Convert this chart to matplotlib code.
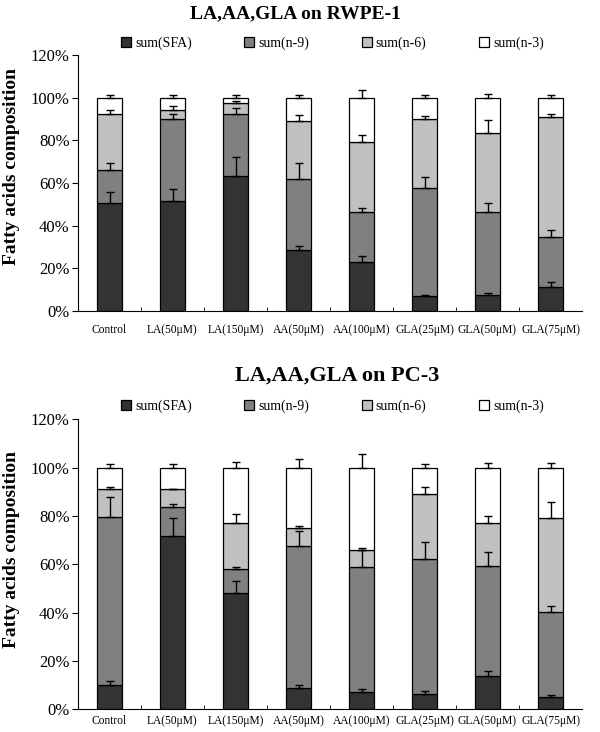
import matplotlib
matplotlib.use("Agg")
import matplotlib.pyplot as plt
import numpy as np

plt.rcParams['font.family'] = ['Liberation Serif', 'DejaVu Serif']

#-- DATA --

groups = ["Control", "LA(50μM)", "LA(150μM)", "AA(50μM)", "AA(100μM)",
          "GLA(25μM)", "GLA(50μM)", "GLA(75μM)"]
series = ["sum(SFA)", "sum(n-9)", "sum(n-6)", "sum(n-3)"]
colors = ["#333333", "#808080", "#c0c0c0", "#ffffff"]

# RWPE-1, percent of total
rwpe_sfa = [50.6, 51.6, 63.4, 28.7, 23.1, 7.0, 7.5, 11.5]
rwpe_n9 = [15.3, 38.3, 28.7, 33.0, 23.3, 50.6, 38.9, 23.1]
rwpe_n6 = [26.2, 4.5, 5.3, 27.2, 32.7, 32.3, 36.8, 56.1]
rwpe_n3 = [7.9, 5.6, 2.6, 11.1, 20.9, 10.1, 16.8, 9.3]
rwpe_sfa_err = [5.0, 5.4, 9.0, 1.7, 2.6, 0.5, 0.9, 1.9]
rwpe_n9_err = [3.3, 2.6, 3.2, 7.9, 1.9, 5.1, 4.2, 3.3]
rwpe_n6_err = [2.0, 1.6, 0.9, 3.1, 3.3, 1.7, 6.2, 1.4]
rwpe_n3_err = [1.0, 1.0, 1.0, 1.4, 3.6, 1.4, 1.9, 1.0]

# PC-3, percent of total
pc3_sfa = [10.1, 71.9, 48.3, 9.0, 7.2, 6.4, 13.8, 5.3]
pc3_n9 = [69.6, 11.9, 9.9, 58.5, 51.9, 56.0, 45.7, 34.9]
pc3_n6 = [11.3, 7.2, 19.0, 7.7, 7.0, 26.8, 17.7, 39.2]
pc3_n3 = [9.0, 9.0, 22.8, 24.8, 33.9, 10.8, 22.8, 20.6]
pc3_sfa_err = [1.5, 7.5, 4.7, 1.0, 1.2, 1.1, 1.9, 0.6]
pc3_n9_err = [8.0, 1.0, 0.8, 6.5, 7.0, 7.0, 5.7, 2.4]
pc3_n6_err = [1.1, 0.3, 3.5, 0.7, 0.8, 2.9, 2.9, 6.6]
pc3_n3_err = [1.4, 1.4, 2.5, 3.5, 5.5, 1.4, 2.1, 2.1]


def draw_panel(ax, parts, errs, ylab_y, xpad):
    x = np.arange(len(groups))
    bottom = np.zeros(len(groups))
    handles = []
    for name, vals, err, col in zip(series, parts, errs, colors):
        vals = np.array(vals)
        h = ax.bar(x, vals, 0.41, bottom=bottom, color=col, edgecolor="black",
                   linewidth=0.9, label=name, zorder=2)
        handles.append(h)
        top = bottom + vals
        ax.errorbar(x, top, yerr=[np.zeros(len(groups)), err], fmt="none",
                    ecolor="black", elinewidth=1, capsize=3, capthick=1, zorder=3)
        bottom = top

    ax.set_xlim(-0.5, len(groups) - 0.5)
    ax.set_ylim(0, 120)
    ax.set_yticks(np.arange(0, 121, 20))
    ax.set_yticklabels(["%d%%" % v for v in range(0, 121, 20)], fontsize=12)
    ax.set_xticks(x)
    ax.set_xticklabels(groups, fontsize=8.3)
    ax.tick_params(axis="x", length=0, pad=xpad)
    ax.set_xticks(np.arange(0.5, len(groups) - 0.5), minor=True)
    ax.tick_params(axis="x", which="minor", direction="in", length=3)
    ax.tick_params(axis="y", direction="out", length=4, pad=2)
    for s in ["top", "right"]:
        ax.spines[s].set_visible(False)
    ax.set_ylabel("Fatty acids composition", fontsize=14, fontweight="bold")
    ax.yaxis.set_label_coords(-0.115, ylab_y)
    ax.legend(handles=handles, ncol=4, loc="center",
              bbox_to_anchor=(0.505, 1.045), frameon=False, fontsize=10,
              handlelength=0.7, handleheight=0.7, handletextpad=0.3,
              columnspacing=3.8, borderaxespad=0)


fig = plt.figure(figsize=(6, 7.32), dpi=100)
ax1 = fig.add_axes([0.13, 0.575, 0.84, 0.35])
ax2 = fig.add_axes([0.13, 0.031, 0.84, 0.396])

draw_panel(ax1, [rwpe_sfa, rwpe_n9, rwpe_n6, rwpe_n3],
           [rwpe_sfa_err, rwpe_n9_err, rwpe_n6_err, rwpe_n3_err], 0.565, 9)
draw_panel(ax2, [pc3_sfa, pc3_n9, pc3_n6, pc3_n3],
           [pc3_sfa_err, pc3_n9_err, pc3_n6_err, pc3_n3_err], 0.55, 4)

fig.text(295 / 600, 1 - 14 / 732, "LA,AA,GLA on RWPE-1", fontsize=14,
         fontweight="bold", ha="center", va="center")
fig.text(337 / 600, 1 - 376 / 732, "LA,AA,GLA on PC-3", fontsize=16,
         fontweight="bold", ha="center", va="center")

fig.savefig("out.png", dpi=100)
